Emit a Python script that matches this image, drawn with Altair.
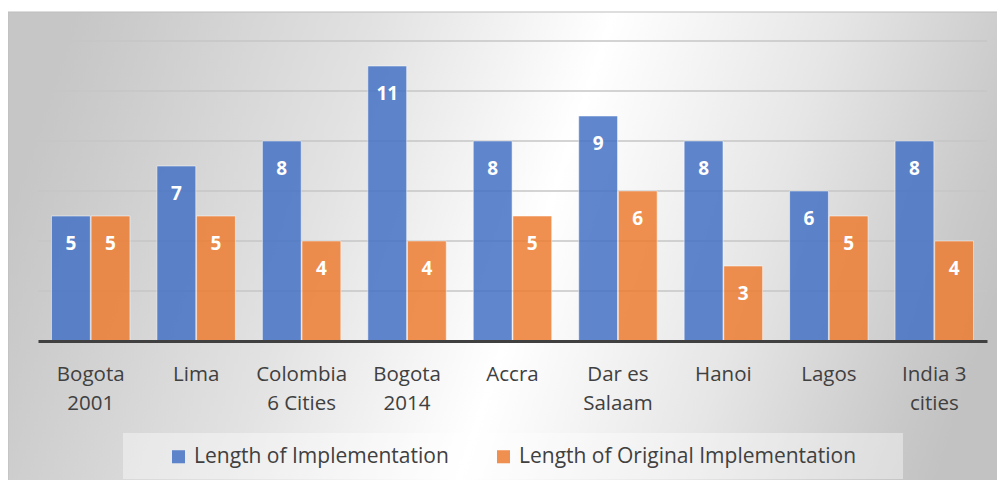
import altair as alt
import pandas as pd

categories = ["Bogota\n2001", "Lima", "Colombia\n6 Cities", "Bogota\n2014", "Accra",
              "Dar es\nSalaam", "Hanoi", "Lagos", "India 3\ncities"]
impl_len = [5, 7, 8, 11, 8, 9, 8, 6, 8]
orig_len = [5, 5, 4, 4, 5, 6, 3, 5, 4]
series = ["Length of Implementation", "Length of Original Implementation"]
colors = ["#4472C4", "#ED7D31"]
grid_values = [2, 4, 6, 8, 10, 12]

rows = []
for c, a, b in zip(categories, impl_len, orig_len):
    rows.append({"cat": c, "series": series[0], "value": a})
    rows.append({"cat": c, "series": series[1], "value": b})
df = pd.DataFrame(rows)

W, H = 949, 300
FONT = "Open Sans"

bg_gradient = {
    "gradient": "linear",
    "x1": 0.0, "y1": 0.42, "x2": 1.0, "y2": 0.58,
    "stops": [
        {"offset": 0.0, "color": "#c6c6c6"},
        {"offset": 0.06, "color": "#cbcbcb"},
        {"offset": 0.3, "color": "#e2e2e2"},
        {"offset": 0.53, "color": "#ffffff"},
        {"offset": 0.75, "color": "#e6e6e6"},
        {"offset": 0.94, "color": "#c9c9c9"},
        {"offset": 1.0, "color": "#c2c2c2"},
    ],
}

background = alt.Chart(alt.Data(values=[{}])).mark_rect(
    fill=bg_gradient, stroke="#bdbdbd", strokeWidth=1
).encode(
    x=alt.value(-30), x2=alt.value(W + 13), y=alt.value(-29), y2=alt.value(H + 150)
)

legend_box = alt.Chart(alt.Data(values=[{}])).mark_rect(
    fill="#ffffff", fillOpacity=0.4
).encode(
    x=alt.value(85), x2=alt.value(865), y=alt.value(392), y2=alt.value(438)
)

grid = alt.Chart(pd.DataFrame({"g": grid_values})).mark_rule(
    color="#c6c6c6", strokeWidth=1.5
).encode(y=alt.Y("g:Q", scale=alt.Scale(domain=[0, 12]), axis=None))

x_enc = alt.X(
    "cat:N", sort=categories, title=None,
    scale=alt.Scale(paddingInner=0.256, paddingOuter=0.128),
    axis=alt.Axis(
        labelExpr="split(datum.label, '\\n')", labelAngle=0, labelFont=FONT,
        labelFontSize=20.5, labelColor="#404040", labelLineHeight=29,
        labelPadding=23, ticks=False, domainColor="#404040", domainWidth=3,
        grid=False, zindex=1, labelBaseline="top"
    ),
)
xoff = alt.XOffset("series:N", sort=series, scale=alt.Scale(paddingInner=0.02))
y_enc = alt.Y("value:Q", scale=alt.Scale(domain=[0, 12]), axis=None)

bars = alt.Chart(df).mark_bar(
    fillOpacity=0.85, stroke="#ffffff", strokeWidth=1, strokeOpacity=0.5
).encode(
    x=x_enc, xOffset=xoff, y=y_enc,
    color=alt.Color(
        "series:N", sort=series, scale=alt.Scale(domain=series, range=colors),
        legend=alt.Legend(title=None, orient="none", legendX=130, legendY=405,
                          direction="horizontal",
                          symbolType="square", symbolSize=170, symbolStrokeWidth=0,
                          symbolOpacity=0.85, labelFont=FONT, labelFontSize=21,
                          labelColor="#404040", labelLimit=500, columnPadding=44,
                          labelOffset=5),
    ),
)

labels = alt.Chart(df).mark_text(
    color="white", fontWeight="bold", fontSize=19, font=FONT, baseline="middle", dy=28
).encode(
    x=alt.X("cat:N", sort=categories), xOffset=xoff, y=y_enc, text="value:Q"
)

chart = alt.layer(background, legend_box, grid, bars, labels).properties(
    width=W, height=H,
    autosize=alt.AutoSizeParams(type="none"),
    padding={"left": 30, "top": 33, "right": 10, "bottom": 139},
    background="#ffffff",
).configure_view(stroke=None)

chart.save("out.html", embed_options={"renderer": "svg", "actions": False})
